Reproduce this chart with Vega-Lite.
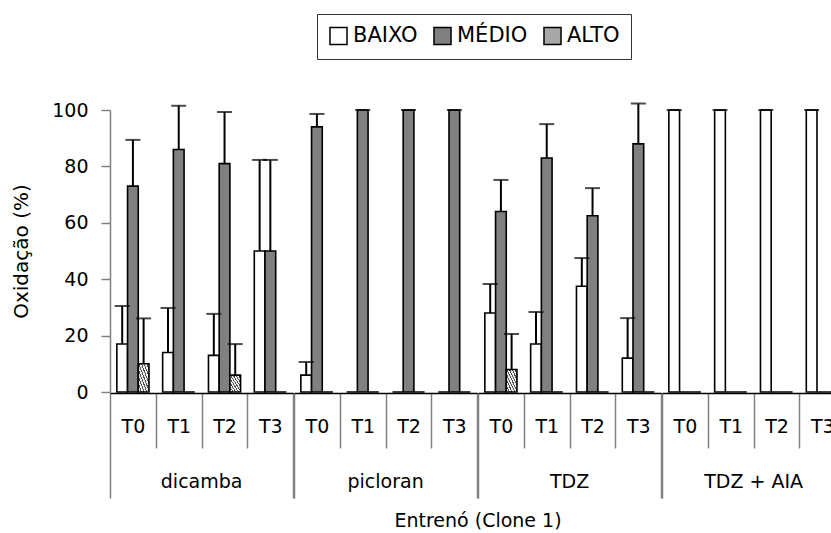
{
  "$schema": "https://vega.github.io/schema/vega-lite/v6.json",
  "autosize": {"type": "none"},
  "padding": {"left": 110, "top": 110, "right": 721, "bottom": 423},
  "background": "white",
  "data": {
    "values": [
      {"grupo": "dicamba", "tempo": "T0", "nivel": "BAIXO", "valor": 17, "sup": 30.5},
      {"grupo": "dicamba", "tempo": "T0", "nivel": "MÉDIO", "valor": 73, "sup": 89.4},
      {"grupo": "dicamba", "tempo": "T0", "nivel": "ALTO", "valor": 10, "sup": 26.1},
      {"grupo": "dicamba", "tempo": "T1", "nivel": "BAIXO", "valor": 14, "sup": 29.8},
      {"grupo": "dicamba", "tempo": "T1", "nivel": "MÉDIO", "valor": 86, "sup": 101.5},
      {"grupo": "dicamba", "tempo": "T1", "nivel": "ALTO", "valor": 0, "sup": null},
      {"grupo": "dicamba", "tempo": "T2", "nivel": "BAIXO", "valor": 13, "sup": 27.7},
      {"grupo": "dicamba", "tempo": "T2", "nivel": "MÉDIO", "valor": 81, "sup": 99.3},
      {"grupo": "dicamba", "tempo": "T2", "nivel": "ALTO", "valor": 6, "sup": 17},
      {"grupo": "dicamba", "tempo": "T3", "nivel": "BAIXO", "valor": 50, "sup": 82.3},
      {"grupo": "dicamba", "tempo": "T3", "nivel": "MÉDIO", "valor": 50, "sup": 82.3},
      {"grupo": "dicamba", "tempo": "T3", "nivel": "ALTO", "valor": 0, "sup": null},
      {"grupo": "picloran", "tempo": "T0", "nivel": "BAIXO", "valor": 6, "sup": 10.6},
      {"grupo": "picloran", "tempo": "T0", "nivel": "MÉDIO", "valor": 94, "sup": 98.6},
      {"grupo": "picloran", "tempo": "T0", "nivel": "ALTO", "valor": 0, "sup": null},
      {"grupo": "picloran", "tempo": "T1", "nivel": "BAIXO", "valor": 0, "sup": null},
      {"grupo": "picloran", "tempo": "T1", "nivel": "MÉDIO", "valor": 100, "sup": 100},
      {"grupo": "picloran", "tempo": "T1", "nivel": "ALTO", "valor": 0, "sup": null},
      {"grupo": "picloran", "tempo": "T2", "nivel": "BAIXO", "valor": 0, "sup": null},
      {"grupo": "picloran", "tempo": "T2", "nivel": "MÉDIO", "valor": 100, "sup": 100},
      {"grupo": "picloran", "tempo": "T2", "nivel": "ALTO", "valor": 0, "sup": null},
      {"grupo": "picloran", "tempo": "T3", "nivel": "BAIXO", "valor": 0, "sup": null},
      {"grupo": "picloran", "tempo": "T3", "nivel": "MÉDIO", "valor": 100, "sup": 100},
      {"grupo": "picloran", "tempo": "T3", "nivel": "ALTO", "valor": 0, "sup": null},
      {"grupo": "TDZ", "tempo": "T0", "nivel": "BAIXO", "valor": 28, "sup": 38.3},
      {"grupo": "TDZ", "tempo": "T0", "nivel": "MÉDIO", "valor": 64, "sup": 75.2},
      {"grupo": "TDZ", "tempo": "T0", "nivel": "ALTO", "valor": 8, "sup": 20.6},
      {"grupo": "TDZ", "tempo": "T1", "nivel": "BAIXO", "valor": 17, "sup": 28.4},
      {"grupo": "TDZ", "tempo": "T1", "nivel": "MÉDIO", "valor": 83, "sup": 95},
      {"grupo": "TDZ", "tempo": "T1", "nivel": "ALTO", "valor": 0, "sup": null},
      {"grupo": "TDZ", "tempo": "T2", "nivel": "BAIXO", "valor": 37.5, "sup": 47.5},
      {"grupo": "TDZ", "tempo": "T2", "nivel": "MÉDIO", "valor": 62.5, "sup": 72.3},
      {"grupo": "TDZ", "tempo": "T2", "nivel": "ALTO", "valor": 0, "sup": null},
      {"grupo": "TDZ", "tempo": "T3", "nivel": "BAIXO", "valor": 12, "sup": 26.2},
      {"grupo": "TDZ", "tempo": "T3", "nivel": "MÉDIO", "valor": 88, "sup": 102.3},
      {"grupo": "TDZ", "tempo": "T3", "nivel": "ALTO", "valor": 0, "sup": null},
      {"grupo": "TDZ + AIA", "tempo": "T0", "nivel": "BAIXO", "valor": 100, "sup": 100},
      {"grupo": "TDZ + AIA", "tempo": "T0", "nivel": "MÉDIO", "valor": 0, "sup": null},
      {"grupo": "TDZ + AIA", "tempo": "T0", "nivel": "ALTO", "valor": 0, "sup": null},
      {"grupo": "TDZ + AIA", "tempo": "T1", "nivel": "BAIXO", "valor": 100, "sup": 100},
      {"grupo": "TDZ + AIA", "tempo": "T1", "nivel": "MÉDIO", "valor": 0, "sup": null},
      {"grupo": "TDZ + AIA", "tempo": "T1", "nivel": "ALTO", "valor": 0, "sup": null},
      {"grupo": "TDZ + AIA", "tempo": "T2", "nivel": "BAIXO", "valor": 100, "sup": 100},
      {"grupo": "TDZ + AIA", "tempo": "T2", "nivel": "MÉDIO", "valor": 0, "sup": null},
      {"grupo": "TDZ + AIA", "tempo": "T2", "nivel": "ALTO", "valor": 0, "sup": null},
      {"grupo": "TDZ + AIA", "tempo": "T3", "nivel": "BAIXO", "valor": 100, "sup": 100},
      {"grupo": "TDZ + AIA", "tempo": "T3", "nivel": "MÉDIO", "valor": 0, "sup": null},
      {"grupo": "TDZ + AIA", "tempo": "T3", "nivel": "ALTO", "valor": 0, "sup": null}
    ]
  },
  "facet": {
    "column": {
      "field": "grupo",
      "type": "nominal",
      "sort": ["dicamba", "picloran", "TDZ", "TDZ + AIA"],
      "title": "Entrenó (Clone 1)",
      "header": {
        "labelOrient": "bottom",
        "titleOrient": "bottom",
        "labelPadding": -26,
        "titlePadding": 3
      }
    }
  },
  "spacing": 0,
  "spec": {
    "width": 183.25,
    "height": 282,
    "encoding": {
      "x": {
        "field": "tempo",
        "type": "nominal",
        "sort": ["T0", "T1", "T2", "T3"],
        "scale": {"paddingInner": 0, "paddingOuter": 0},
        "axis": {
          "title": null,
          "labelAngle": 0,
          "tickBand": "extent",
          "tickSize": {"condition": {"test": "datum.value === 'T3' || datum.index < 0", "value": 105}, "value": 55},
          "labelPadding": {"condition": {"test": "datum.value === 'T3'", "value": -72}, "value": -22},
          "labelBaseline": "middle"
        }
      },
      "xOffset": {
        "field": "nivel",
        "type": "nominal",
        "sort": ["BAIXO", "MÉDIO", "ALTO"],
        "scale": {"paddingInner": 0, "paddingOuter": 0.64}
      }
    },
    "layer": [
      {
        "mark": {"type": "bar", "stroke": "black", "strokeWidth": 1.6},
        "encoding": {
          "y": {
            "field": "valor",
            "type": "quantitative",
            "scale": {"domain": [0, 100], "nice": false},
            "axis": {
              "title": "Oxidação (%)",
              "values": [0, 20, 40, 60, 80, 100],
              "grid": false,
              "tickSize": 9,
              "labelPadding": 13,
              "titlePadding": 20
            }
          },
          "fill": {
            "condition": {
              "test": "datum.nivel === 'ALTO'",
              "value": {
                "gradient": "linear", "x1": 0, "y1": 1, "x2": 1, "y2": 0,
                "stops": [
                  {"offset": 0, "color": "#555555"}, {"offset": 0.05, "color": "#555555"}, {"offset": 0.05, "color": "#eeeeee"}, {"offset": 0.125, "color": "#eeeeee"},
                  {"offset": 0.125, "color": "#555555"}, {"offset": 0.175, "color": "#555555"}, {"offset": 0.175, "color": "#eeeeee"}, {"offset": 0.25, "color": "#eeeeee"},
                  {"offset": 0.25, "color": "#555555"}, {"offset": 0.3, "color": "#555555"}, {"offset": 0.3, "color": "#eeeeee"}, {"offset": 0.375, "color": "#eeeeee"},
                  {"offset": 0.375, "color": "#555555"}, {"offset": 0.425, "color": "#555555"}, {"offset": 0.425, "color": "#eeeeee"}, {"offset": 0.5, "color": "#eeeeee"},
                  {"offset": 0.5, "color": "#555555"}, {"offset": 0.55, "color": "#555555"}, {"offset": 0.55, "color": "#eeeeee"}, {"offset": 0.625, "color": "#eeeeee"},
                  {"offset": 0.625, "color": "#555555"}, {"offset": 0.675, "color": "#555555"}, {"offset": 0.675, "color": "#eeeeee"}, {"offset": 0.75, "color": "#eeeeee"},
                  {"offset": 0.75, "color": "#555555"}, {"offset": 0.8, "color": "#555555"}, {"offset": 0.8, "color": "#eeeeee"}, {"offset": 0.875, "color": "#eeeeee"},
                  {"offset": 0.875, "color": "#555555"}, {"offset": 0.925, "color": "#555555"}, {"offset": 0.925, "color": "#eeeeee"}, {"offset": 1, "color": "#eeeeee"}
                ]
              }
            },
            "field": "nivel",
            "type": "nominal",
            "sort": ["BAIXO", "MÉDIO", "ALTO"],
            "scale": {"domain": ["BAIXO", "MÉDIO", "ALTO"], "range": ["#ffffff", "#808080", "#a8a8a8"]},
            "legend": {
              "title": null,
              "orient": "none",
              "legendX": 207,
              "legendY": -96,
              "direction": "horizontal",
              "symbolType": "square",
              "symbolSize": 290,
              "symbolStrokeColor": "black",
              "symbolStrokeWidth": 1.5,
              "labelFont": "DejaVu Sans",
              "labelFontSize": 21,
              "labelColor": "black",
              "labelOffset": 4,
              "columnPadding": 12,
              "padding": 11,
              "strokeColor": "#333333",
              "fillColor": "white"
            }
          }
        }
      },
      {
        "transform": [{"filter": "datum.sup != null"}],
        "mark": {"type": "rule", "color": "black", "strokeWidth": 2, "clip": false},
        "encoding": {
          "y": {"field": "valor", "type": "quantitative"},
          "y2": {"field": "sup"}
        }
      },
      {
        "transform": [{"filter": "datum.sup != null"}],
        "mark": {"type": "tick", "color": "black", "orient": "horizontal", "size": 15, "thickness": 2, "clip": false},
        "encoding": {
          "y": {"field": "sup", "type": "quantitative"}
        }
      }
    ]
  },
  "config": {
    "font": "DejaVu Sans",
    "view": {"stroke": null},
    "axis": {
      "labelFont": "DejaVu Sans",
      "labelFontSize": 19,
      "labelColor": "black",
      "titleFont": "DejaVu Sans",
      "titleFontSize": 20,
      "titleFontWeight": "normal",
      "titleColor": "black",
      "tickColor": "#808080",
      "tickWidth": 1.5,
      "domainColor": "#808080",
      "domainWidth": 1.5
    },
    "axisX": {"domainColor": "black", "domainWidth": 1.5},
    "header": {
      "labelFont": "DejaVu Sans",
      "labelFontSize": 19,
      "labelColor": "black",
      "titleFont": "DejaVu Sans",
      "titleFontSize": 19,
      "titleFontWeight": "normal",
      "titleColor": "black"
    }
  }
}
